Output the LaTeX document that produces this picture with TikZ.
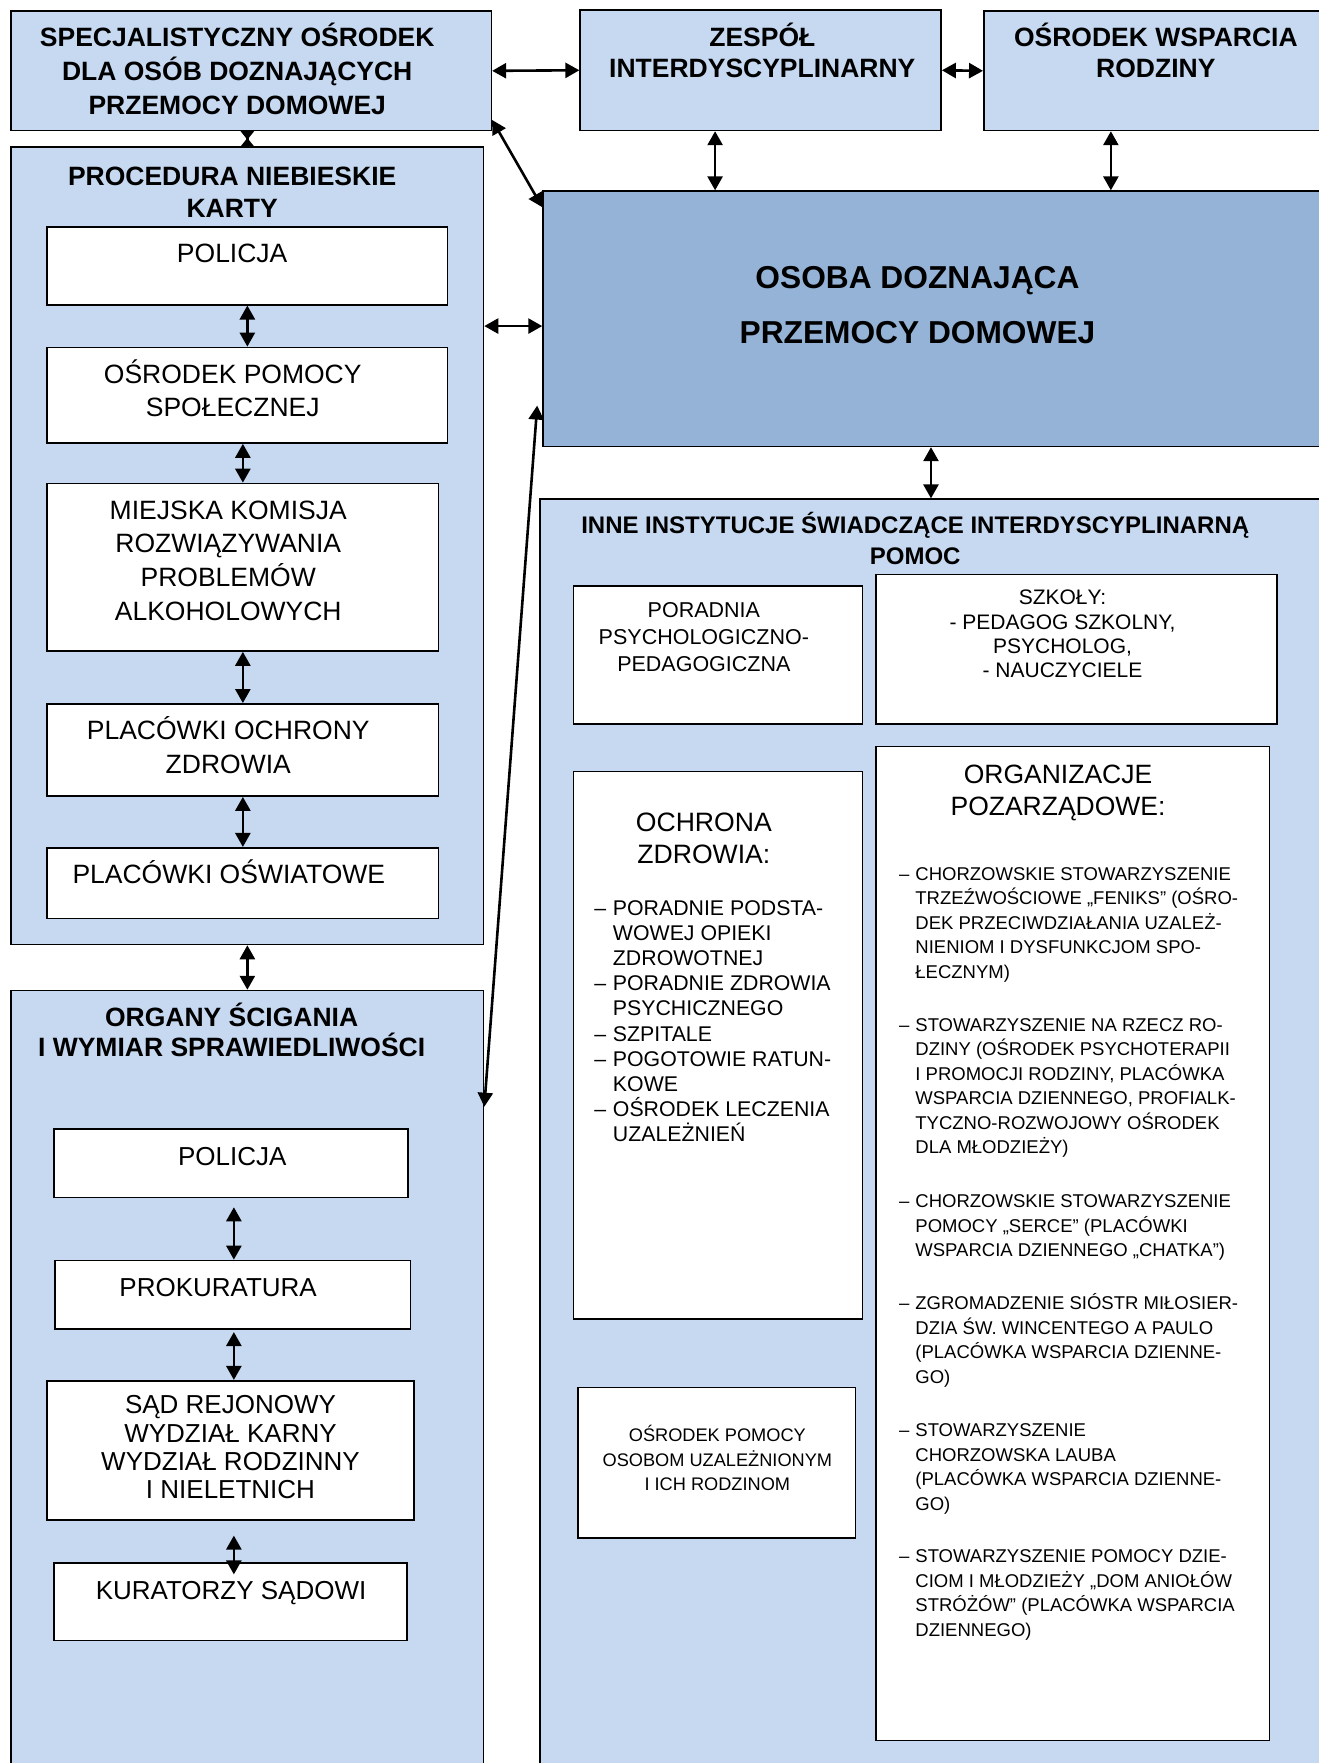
\documentclass[tikz,border=0pt]{standalone}
\usepackage{fontspec}
\setmainfont{Liberation Sans}
\usetikzlibrary{arrows.meta,calc,fit}
\definecolor{lb}{HTML}{C6D9F1}
\definecolor{db}{HTML}{95B3D7}
\setlength\lineskiplimit{-100pt}
\setlength\lineskip{0pt}
\newcommand\sx{\rule{0pt}{1em}}
\newcommand\fsz[2]{\fontsize{#1}{#2}\selectfont}
\newcommand\dsh{\llap{–\hspace{0.32em}}}
\begin{document}
\begin{tikzpicture}[x=1.1245pt,y=-1.1245pt,
  box/.style={draw=black, line width=1.6pt, inner sep=0pt, fill=white},
  cont/.style={box, fill=lb},
  txt/.style={inner sep=0pt, anchor=north, align=center},
  ltxt/.style={inner sep=0pt, anchor=north west, align=left},
  arr/.style={line width=2.6pt, {Triangle[length=14pt,width=15pt]}-{Triangle[length=14pt,width=15pt]}},
  sarr/.style={line width=2.6pt, {Triangle[reversed,length=8.5pt,width=13pt]}-{Triangle[reversed,length=8.5pt,width=13pt]}}]
\useasboundingbox (0,0) rectangle (1173,1568);
\clip (0,0) rectangle (1173,1568);
\fill[white] (0,0) rectangle (1173,1568);

% top row
\node[cont, fit={(10,10) (437,116)}] (spec) {};
\node[cont, fit={(516,9) (837,116)}] (zesp) {};
\node[cont, fit={(875,10) (1185,116)}] (owr) {};
\node[box, fill=db, fit={(483,170) (1185,397)}] (osoba) {};
\node[cont, fit={(10,131) (430,840)}] (proc) {};
\node[cont, fit={(10,881) (430,1585)}] (org) {};
\node[cont, fit={(480,444) (1185,1585)}] (inne) {};

\node[txt, font=\fsz{26.5}{33.7}\bfseries] (specT) at (211,17.9) {\sx SPECJALISTYCZNY OŚRODEK\\DLA OSÓB DOZNAJĄCYCH\\PRZEMOCY DOMOWEJ};
\node[txt, font=\fsz{26.5}{30.4}\bfseries] (zespT) at (678,17.9) {\sx ZESPÓŁ\\INTERDYSCYPLINARNY};
\node[txt, font=\fsz{26.5}{30.4}\bfseries] (owrT) at (1028,17.9) {\sx OŚRODEK WSPARCIA\\RODZINY};
\node[txt, font=\fsz{31.7}{55.1}\bfseries] (osobaT) at (816,227.9) {\sx OSOBA DOZNAJĄCA\\PRZEMOCY DOMOWEJ};
\node[txt, font=\fsz{26.5}{32.6}\bfseries] (procT) at (206.5,140.9) {\sx PROCEDURA NIEBIESKIE\\KARTY};

% procedura boxes
\node[box, fit={(42,202) (398,271)}] (p1) {};
\node[box, fit={(42,309) (398,394)}] (p2) {};
\node[box, fit={(42,430) (390,579)}] (p3) {};
\node[box, fit={(42,626) (390,708)}] (p4) {};
\node[box, fit={(42,754) (390,817)}] (p5) {};
\node[txt, font=\fsz{26.5}{33.7}] (p1T) at (206.5,209.9) {\sx POLICJA};
\node[txt, font=\fsz{26.5}{33.7}] (p2T) at (207,316.9) {\sx OŚRODEK POMOCY\\SPOŁECZNEJ};
\node[txt, font=\fsz{26.5}{33.7}] (p3T) at (203,437.9) {\sx MIEJSKA KOMISJA\\ROZWIĄZYWANIA\\PROBLEMÓW\\ALKOHOLOWYCH};
\node[txt, font=\fsz{26.5}{33.7}] (p4T) at (203,633.9) {\sx PLACÓWKI OCHRONY\\ZDROWIA};
\node[txt, font=\fsz{26.5}{33.7}] (p5T) at (203.5,761.9) {\sx PLACÓWKI OŚWIATOWE};

% organy
\node[txt, font=\fsz{26.5}{30.4}\bfseries] (orgT) at (206,888.9) {\sx ORGANY ŚCIGANIA\\I WYMIAR SPRAWIEDLIWOŚCI};
\node[box, fit={(48,1004) (363,1065)}] (o1) {};
\node[box, fit={(49,1121) (365,1182)}] (o2) {};
\node[box, fit={(42,1228) (368,1352)}] (o3) {};
\node[box, fit={(48,1390) (362,1459)}] (o4) {};
\node[txt, font=\fsz{26}{28.1}] (o1T) at (206.5,1013.2) {\sx POLICJA};
\node[txt, font=\fsz{26}{28.1}] (o2T) at (194,1130.2) {\sx PROKURATURA};
\node[txt, font=\fsz{26}{28.1}] (o3T) at (205,1234.2) {\sx SĄD REJONOWY\\WYDZIAŁ KARNY\\WYDZIAŁ RODZINNY\\I NIELETNICH};
\node[txt, font=\fsz{26}{28.1}] (o4T) at (205.5,1399.2) {\sx KURATORZY SĄDOWI};

% inne
\node[txt, font=\fsz{24}{30.4}\bfseries] (inneT) at (814,453.3) {\sx INNE INSTYTUCJE ŚWIADCZĄCE INTERDYSCYPLINARNĄ\\POMOC};
\node[box, fit={(510,521) (767,644)}] (i1) {};
\node[box, fit={(779,511) (1136,644)}] (i2) {};
\node[box, fit={(510,686) (767,1173)}] (i3) {};
\node[box, fit={(779,664) (1129,1548)}] (i4) {};
\node[box, fit={(514,1234) (761,1368)}] (i5) {};
\node[txt, font=\fsz{21.5}{27}] (i1T) at (626,529.7) {\sx PORADNIA\\PSYCHOLOGICZNO-\\PEDAGOGICZNA};
\node[txt, font=\fsz{21}{24.4}] (i2T) at (945,519) {\sx SZKOŁY:\\- PEDAGOG SZKOLNY,\\PSYCHOLOG,\\- NAUCZYCIELE};
\node[txt, font=\fsz{26.6}{31.5}] (i3T) at (626,715.8) {\sx OCHRONA\\ZDROWIA:};
\node[ltxt, font=\fsz{21.3}{25.2}] (i3L) at (545,794.8) {\sx\dsh PORADNIE PODSTA-\\WOWEJ OPIEKI\\ZDROWOTNEJ\\\dsh PORADNIE ZDROWIA\\PSYCHICZNEGO\\\dsh SZPITALE\\\dsh POGOTOWIE RATUN-\\KOWE\\\dsh OŚRODEK LECZENIA\\UZALEŻNIEŃ};
\node[txt, font=\fsz{26.5}{32.6}] (i4T) at (941,672.9) {\sx ORGANIZACJE\\POZARZĄDOWE:};
\node[ltxt, font=\fsz{18.5}{24.5}] (g1) at (814,766.4) {\sx\dsh CHORZOWSKIE STOWARZYSZENIE\\TRZEŹWOŚCIOWE „FENIKS” (OŚRO-\\DEK PRZECIWDZIAŁANIA UZALEŻ-\\NIENIOM I DYSFUNKCJOM SPO-\\ŁECZNYM)};
\node[ltxt, font=\fsz{18.5}{24.5}] (g2) at (814,900.4) {\sx\dsh STOWARZYSZENIE NA RZECZ RO-\\DZINY (OŚRODEK PSYCHOTERAPII\\I PROMOCJI RODZINY, PLACÓWKA\\WSPARCIA DZIENNEGO, PROFIALK-\\TYCZNO-ROZWOJOWY OŚRODEK\\DLA MŁODZIEŻY)};
\node[ltxt, font=\fsz{18.5}{24.5}] (g3) at (814,1057.4) {\sx\dsh CHORZOWSKIE STOWARZYSZENIE\\POMOCY „SERCE” (PLACÓWKI\\WSPARCIA DZIENNEGO „CHATKA”)};
\node[ltxt, font=\fsz{18.5}{24.5}] (g4) at (814,1148.4) {\sx\dsh ZGROMADZENIE SIÓSTR MIŁOSIER-\\DZIA ŚW. WINCENTEGO A PAULO\\(PLACÓWKA WSPARCIA DZIENNE-\\GO)};
\node[ltxt, font=\fsz{18.5}{24.5}] (g5) at (814,1261.4) {\sx\dsh STOWARZYSZENIE\\CHORZOWSKA LAUBA\\(PLACÓWKA WSPARCIA DZIENNE-\\GO)};
\node[ltxt, font=\fsz{18.5}{24.5}] (g6) at (814,1373.4) {\sx\dsh STOWARZYSZENIE POMOCY DZIE-\\CIOM I MŁODZIEŻY „DOM ANIOŁÓW\\STRÓŻÓW” (PLACÓWKA WSPARCIA\\DZIENNEGO)};
\node[txt, font=\fsz{18.2}{24.7}] (i5T) at (638,1265.6) {\sx OŚRODEK POMOCY\\OSOBOM UZALEŻNIONYM\\I ICH RODZINOM};

% connectors
\draw[arr] (spec.east) -- (zesp.west);
\draw[arr] (zesp.east) -- (owr.west);
\draw[sarr] (spec.south -| proc.north) -- (proc.north);
\draw[arr] ($(spec.south east)+(0,-10)$) -- ($(osoba.north west)+(0,15)$);
\coordinate (zs) at ($(zesp.south)+(-40.5,0)$);
\draw[arr] (zs) -- (zs |- osoba.north);
\coordinate (os) at ($(owr.south)+(-42,0)$);
\draw[arr] (os) -- (os |- osoba.north);
\coordinate (pw) at ($(osoba.west)+(0,6.5)$);
\draw[arr] (pw -| proc.east) -- (pw);
\draw[arr] (proc.south) -- (org.north);
\draw[arr] ($(org.north east)+(0,104)$) -- ($(osoba.south west)+(-4.5,-37)$);
\coordinate (oi) at ($(osoba.south)+(-6,0)$);
\draw[arr] (oi) -- (oi |- inne.north);

\draw[arr] (p1.south) -- (p2.north);
\draw[arr] (p3.north |- p2.south) -- (p3.north);
\draw[arr] (p3.south) -- (p4.north);
\draw[arr] (p4.south) -- (p5.north);
\coordinate (a1) at ($(o1.south)+(2.5,8)$);
\draw[arr] (a1) -- (a1 |- o2.north);
\coordinate (a2) at ($(o2.south)+(1,2)$);
\draw[arr] (a2) -- (a2 |- o3.north);
\coordinate (a3) at ($(o3.south)+(3,13)$);
\draw[arr] (a3) -- ($(a3 |- o4.north)+(0,11)$);
\end{tikzpicture}
\end{document}
